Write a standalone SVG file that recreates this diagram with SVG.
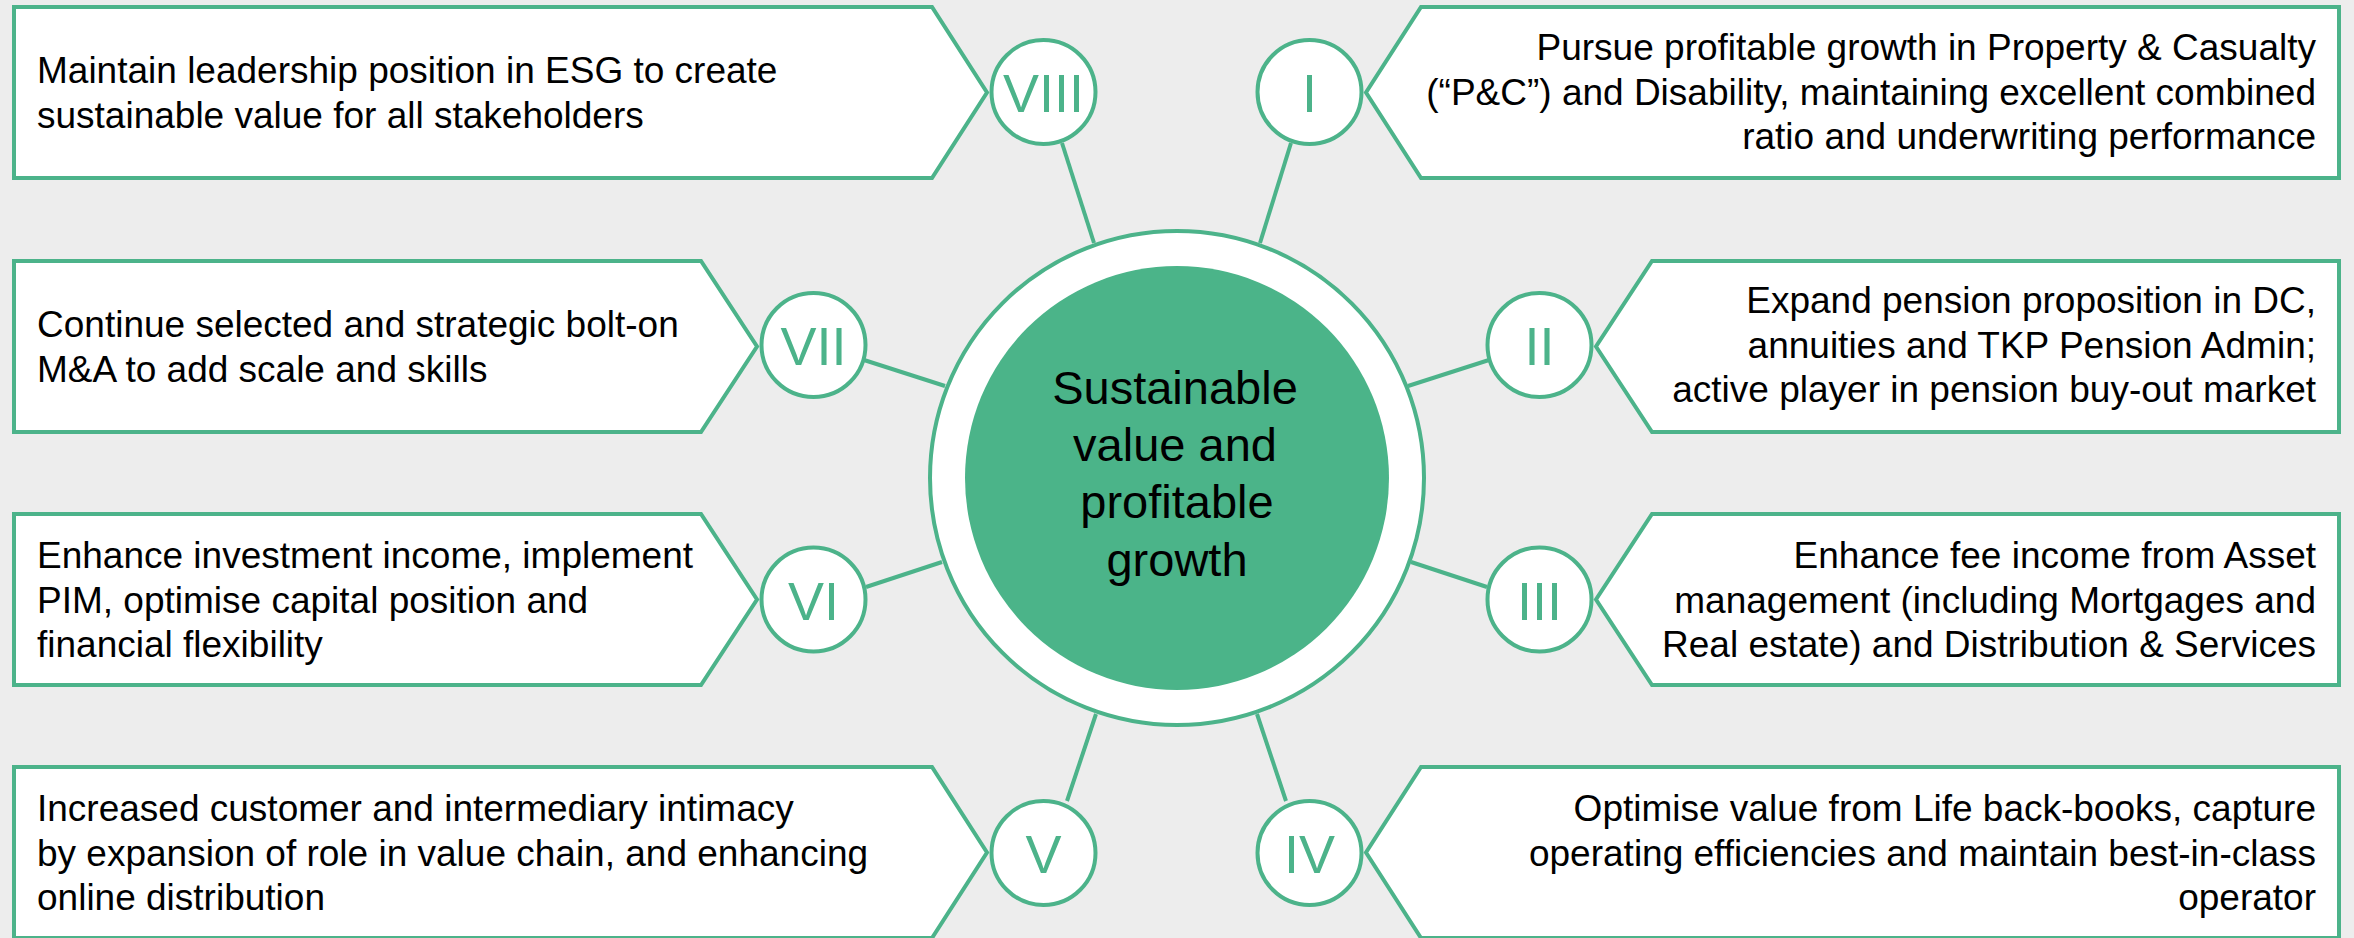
<svg xmlns="http://www.w3.org/2000/svg" width="2354" height="938" viewBox="0 0 2354 938">
  <style>
    .box { fill: #ffffff; stroke: #4CB38A; stroke-width: 4; stroke-linejoin: miter; }
    .num { fill: #ffffff; stroke: #4CB38A; stroke-width: 4; }
    .numtxt { font-family: "Liberation Sans", Arial, sans-serif; font-size: 54px; fill: #4CB38A; text-anchor: middle; }
    .txt { font-family: "Liberation Sans", Arial, sans-serif; font-size: 37px; fill: #000000; }
    .rt { text-anchor: end; }
    .link { stroke: #4CB38A; stroke-width: 4; fill: none; }
    .hubtxt { font-family: "Liberation Sans", Arial, sans-serif; font-size: 47px; fill: #000000; text-anchor: middle; }
  </style>
  <rect x="0" y="0" width="2354" height="938" fill="#EDEDED"/>

  <!-- spokes from the hub to each numbered badge -->
  <g id="connectors">
    <line class="link" x1="1062" y1="143" x2="1094" y2="243"/>
    <line class="link" x1="1291" y1="143" x2="1260" y2="243"/>
    <line class="link" x1="864" y1="360" x2="945" y2="386"/>
    <line class="link" x1="1489" y1="360" x2="1408" y2="386"/>
    <line class="link" x1="866" y1="587" x2="942" y2="562"/>
    <line class="link" x1="1487" y1="587" x2="1411" y2="562"/>
    <line class="link" x1="1067" y1="801" x2="1096" y2="714"/>
    <line class="link" x1="1286" y1="801" x2="1257" y2="714"/>
  </g>

  <!-- central hub -->
  <g id="hub">
    <circle cx="1177" cy="478" r="247" fill="#ffffff" stroke="#4CB38A" stroke-width="4"/>
    <circle cx="1177" cy="478" r="212" fill="#4BB489"/>
    <text class="hubtxt" x="1175" y="404">Sustainable</text>
    <text class="hubtxt" x="1175" y="461">value and</text>
    <text class="hubtxt" x="1177" y="518">profitable</text>
    <text class="hubtxt" x="1177" y="576">growth</text>
  </g>

  <!-- left column -->
  <g id="node-viii">
    <polygon class="box" points="14,7 932,7 987,92.5 932,178 14,178"/>
    <text class="txt" x="37" y="83">Maintain leadership position in ESG to create<tspan x="37" dy="44.5">sustainable value for all stakeholders</tspan></text>
    <circle class="num" cx="1043.5" cy="92" r="52"/>
    <text class="numtxt" x="1043.5" y="112">VIII</text>
  </g>

  <g id="node-vii">
    <polygon class="box" points="14,261 701,261 757,346.5 701,432 14,432"/>
    <text class="txt" x="37" y="337">Continue selected and strategic bolt-on<tspan x="37" dy="44.5">M&amp;A to add scale and skills</tspan></text>
    <circle class="num" cx="813.5" cy="345" r="52"/>
    <text class="numtxt" x="813.5" y="365">VII</text>
  </g>

  <g id="node-vi">
    <polygon class="box" points="14,514 701,514 757,599.5 701,685 14,685"/>
    <text class="txt" x="37" y="568">Enhance investment income, implement<tspan x="37" dy="44.5">PIM, optimise capital position and</tspan><tspan x="37" dy="44.5">financial flexibility</tspan></text>
    <circle class="num" cx="813.5" cy="599.5" r="52"/>
    <text class="numtxt" x="813.5" y="619.5">VI</text>
  </g>

  <g id="node-v">
    <polygon class="box" points="14,767 932,767 987,852.5 932,938 14,938"/>
    <text class="txt" x="37" y="821">Increased customer and intermediary intimacy<tspan x="37" dy="44.5">by expansion of role in value chain, and enhancing</tspan><tspan x="37" dy="44.5">online distribution</tspan></text>
    <circle class="num" cx="1043.5" cy="853" r="52"/>
    <text class="numtxt" x="1043.5" y="873">V</text>
  </g>

  <!-- right column -->
  <g id="node-i">
    <polygon class="box" points="2339,7 1421,7 1366,92.5 1421,178 2339,178"/>
    <text class="txt rt" x="2316" y="60">Pursue profitable growth in Property &amp; Casualty<tspan x="2316" dy="44.5">(“P&amp;C”) and Disability, maintaining excellent combined</tspan><tspan x="2316" dy="44.5">ratio and underwriting performance</tspan></text>
    <circle class="num" cx="1309.5" cy="92" r="52"/>
    <text class="numtxt" x="1309.5" y="112">I</text>
  </g>

  <g id="node-ii">
    <polygon class="box" points="2339,261 1652,261 1596,346.5 1652,432 2339,432"/>
    <text class="txt rt" x="2316" y="313">Expand pension proposition in DC,<tspan x="2316" dy="44.5">annuities and TKP Pension Admin;</tspan><tspan x="2316" dy="44.5">active player in pension buy-out market</tspan></text>
    <circle class="num" cx="1539.5" cy="345" r="52"/>
    <text class="numtxt" x="1539.5" y="365">II</text>
  </g>

  <g id="node-iii">
    <polygon class="box" points="2339,514 1652,514 1596,599.5 1652,685 2339,685"/>
    <text class="txt rt" x="2316" y="568">Enhance fee income from Asset<tspan x="2316" dy="44.5">management (including Mortgages and</tspan><tspan x="2316" dy="44.5">Real estate) and Distribution &amp; Services</tspan></text>
    <circle class="num" cx="1539.5" cy="599.5" r="52"/>
    <text class="numtxt" x="1539.5" y="619.5">III</text>
  </g>

  <g id="node-iv">
    <polygon class="box" points="2339,767 1421,767 1366,852.5 1421,938 2339,938"/>
    <text class="txt rt" x="2316" y="821">Optimise value from Life back-books, capture<tspan x="2316" dy="44.5">operating efficiencies and maintain best-in-class</tspan><tspan x="2316" dy="44.5">operator</tspan></text>
    <circle class="num" cx="1309.5" cy="853" r="52"/>
    <text class="numtxt" x="1309.5" y="873">IV</text>
  </g>
</svg>
